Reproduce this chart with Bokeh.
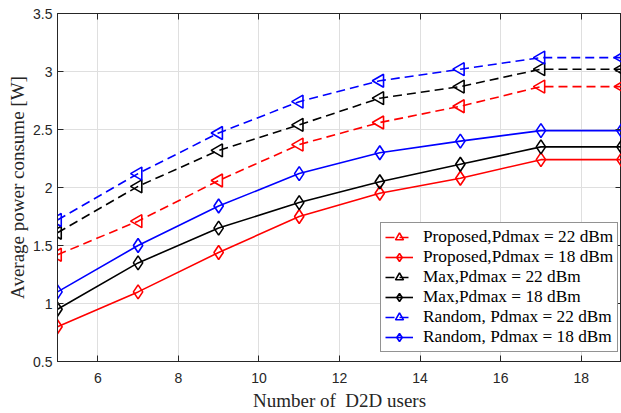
from bokeh.plotting import figure
from bokeh.models import LinearAxis, FixedTicker, Legend, LegendItem, Range1d, ColumnDataSource
from bokeh.embed import file_html
from bokeh.resources import INLINE
import math

users = [5, 7, 9, 11, 13, 15, 17, 19]
proposed_22 = [1.42, 1.71, 2.06, 2.37, 2.56, 2.70, 2.87, 2.87]
proposed_18 = [0.80, 1.10, 1.44, 1.75, 1.95, 2.08, 2.24, 2.24]
max_22 = [1.61, 2.01, 2.32, 2.54, 2.77, 2.87, 3.02, 3.02]
max_18 = [0.95, 1.35, 1.65, 1.87, 2.05, 2.20, 2.35, 2.35]
random_22 = [1.72, 2.12, 2.47, 2.74, 2.92, 3.02, 3.12, 3.12]
random_18 = [1.10, 1.50, 1.84, 2.12, 2.30, 2.40, 2.49, 2.49]

x_ticks = [6, 8, 10, 12, 14, 16, 18]
y_ticks = [0.5, 1.0, 1.5, 2.0, 2.5, 3.0, 3.5]
y_tick_labels = ["0.5", "1", "1.5", "2", "2.5", "3", "3.5"]

series = [
    ("Proposed,Pdmax = 22 dBm", proposed_22, "#ff0000", "dashed"),
    ("Proposed,Pdmax = 18 dBm", proposed_18, "#ff0000", "solid"),
    ("Max,Pdmax = 22 dBm", max_22, "#000000", "dashed"),
    ("Max,Pdmax = 18 dBm", max_18, "#000000", "solid"),
    ("Random, Pdmax = 22 dBm", random_22, "#0000ff", "dashed"),
    ("Random, Pdmax = 18 dBm", random_18, "#0000ff", "solid"),
]

AX = "#262626"
p = figure(width=621, height=413, output_backend="svg", toolbar_location=None,
           x_range=Range1d(5, 19), y_range=Range1d(0.5, 3.5),
           min_border_left=57, min_border_right=0, min_border_top=13, min_border_bottom=51)
p.background_fill_color = "white"
p.border_fill_color = "white"
p.outline_line_color = AX
p.outline_line_width = 1

for ax, ticks in ((p.xaxis[0], x_ticks), (p.yaxis[0], y_ticks)):
    ax.ticker = FixedTicker(ticks=ticks)
    ax.major_tick_in = 6
    ax.major_tick_out = 0
    ax.minor_tick_line_color = None
    ax.axis_line_color = AX
    ax.major_tick_line_color = AX
    ax.major_label_text_font = "Liberation Sans"
    ax.major_label_text_font_size = "14px"
    ax.major_label_text_color = AX
    ax.axis_label_text_font = "Liberation Serif"
    ax.axis_label_text_font_size = "19px"
    ax.axis_label_text_font_style = "normal"
    ax.axis_label_text_color = AX

p.yaxis[0].major_label_overrides = {t: l for t, l in zip(y_ticks, y_tick_labels)}
p.xaxis[0].axis_label = "Number of\u00a0 D2D users"
p.yaxis[0].axis_label = "Average power consume [W]"
p.xaxis[0].major_label_standoff = 11
p.yaxis[0].major_label_standoff = 5
p.xaxis[0].axis_label_standoff = 4
p.yaxis[0].axis_label_standoff = 2

for side, ticks in (("above", x_ticks), ("right", y_ticks)):
    a = LinearAxis(ticker=FixedTicker(ticks=ticks), major_tick_in=6, major_tick_out=0,
                   minor_tick_line_color=None, major_label_text_font_size="1px",
                   major_label_text_color=None,
                   major_label_standoff=0, axis_line_color=AX, major_tick_line_color=AX)
    p.add_layout(a, side)

p.xgrid.ticker = FixedTicker(ticks=x_ticks)
p.ygrid.ticker = FixedTicker(ticks=y_ticks)
p.grid.grid_line_color = "#dfdfdf"
p.grid.grid_line_width = 1

items = []
for label, vals, color, dash in series:
    src = ColumnDataSource(dict(x=users, y=vals, a=[math.pi / 2] * len(users)))
    dash_pat = "9 5" if dash == "dashed" else "solid"
    r1 = p.line("x", "y", source=src, line_color=color, line_width=1.6, line_dash=dash_pat)
    if dash == "dashed":
        r2 = p.scatter("x", "y", source=src, marker="triangle", size=13, angle="a",
                       angle_units="rad", line_color=color, line_width=1.6, fill_alpha=0)
    else:
        r2 = p.scatter("x", "y", source=src, marker="diamond", size=14,
                       line_color=color, line_width=1.6, fill_alpha=0)
    items.append(LegendItem(label=label, renderers=[r1, r2]))

legend = Legend(items=items, location=(323, 9))
legend.label_text_font = "Liberation Serif"
legend.label_text_font_size = "17.3px"
legend.label_text_color = "#000000"
legend.border_line_color = AX
legend.border_line_width = 1
legend.background_fill_color = "white"
legend.background_fill_alpha = 1
legend.padding = 4
legend.spacing = 0
legend.glyph_width = 28
legend.glyph_height = 20
legend.label_height = 20
legend.label_standoff = 10
p.add_layout(legend, "center")

open("out.html", "w").write(file_html(p, INLINE))
